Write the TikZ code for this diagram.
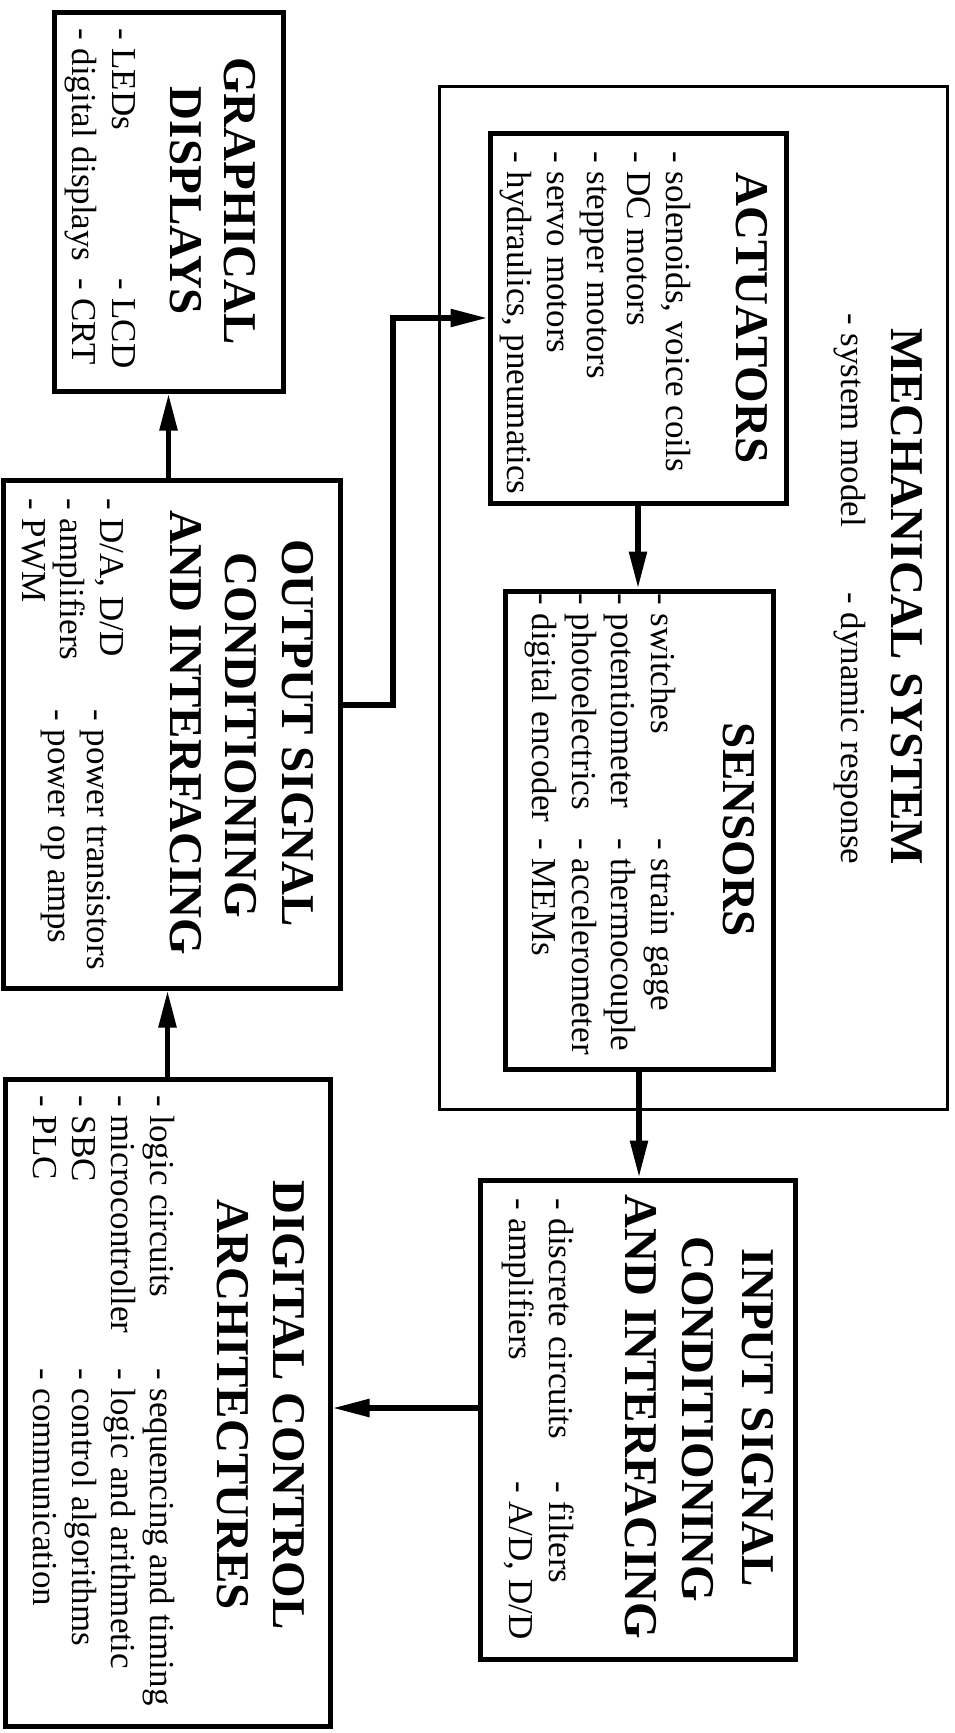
\documentclass[tikz,border=0pt]{standalone}
\usepackage{fontspec}
\setmainfont{Liberation Serif}
\usetikzlibrary{arrows.meta}
\newcommand{\bodyfnt}{\fontsize{35}{39}\selectfont}
\newcommand{\titlefnt}{\fontsize{47}{54}\selectfont\bfseries}
\begin{document}
\begin{tikzpicture}[x=1pt,y=-1pt,
  tbox/.style={draw, line width=5pt, rectangle, inner sep=0pt},
  mbox/.style={draw, line width=3pt, rectangle, inner sep=0pt},
  conn/.style={line width=5.5pt, -{Triangle[length=37pt,width=17pt]}},
  item/.style={rotate=-90, anchor=base west, inner sep=0pt, font=\bodyfnt},
  ttl/.style={rotate=-90, anchor=base, inner sep=0pt, font=\titlefnt}]
\fill[white] (0,0) rectangle (955,1733);
\useasboundingbox (0,0) rectangle (955,1733);

% Mechanical system
\node[mbox, minimum width=508pt, minimum height=1023pt] (mech) at (693,597.5) {};
\node[ttl] (mecht) at (891,597) {MECHANICAL SYSTEM};
\node[item] (mech1) at (841,313) {- system model};
\node[item] (mech2) at (841,592) {- dynamic response};

% Graphical displays
\node[tbox, minimum width=229pt, minimum height=379pt] (gd) at (168.5,201.5) {};
\node[ttl] (gdt1) at (224,201) {GRAPHICAL};
\node[ttl] (gdt2) at (170,201) {DISPLAYS};
\node[item] (gd1) at (112,28) {- LEDs};
\node[item] (gd2) at (72,28) {- digital displays};
\node[item] (gd3) at (112,278) {- LCD};
\node[item] (gd4) at (72,278) {- CRT};

% Actuators
\node[tbox, minimum width=296pt, minimum height=370pt] (act) at (638,318) {};
\node[ttl] (actt) at (736,318) {ACTUATORS};
\node[item] (act1) at (666,151) {- solenoids, voice coils};
\node[item] (act2) at (627,151) {- DC motors};
\node[item] (act3) at (587,151) {- stepper motors};
\node[item] (act4) at (547,151) {- servo motors};
\node[item] (act5) at (507,151) {- hydraulics, pneumatics};

% Sensors
\node[tbox, minimum width=268pt, minimum height=478pt] (sens) at (639,830) {};
\node[ttl] (senst) at (723,830) {SENSORS};
\node[item] (sen1) at (651,593) {- switches};
\node[item] (sen2) at (611,593) {- potentiometer};
\node[item] (sen3) at (572,593) {- photoelectrics};
\node[item] (sen4) at (532,593) {- digital encoder};
\node[item] (sen5) at (651,838) {- strain gage};
\node[item] (sen6) at (611,838) {- thermocouple};
\node[item] (sen7) at (572,838) {- accelerometer};
\node[item] (sen8) at (532,838) {- MEMs};

% Input signal conditioning
\node[tbox, minimum width=315pt, minimum height=479pt] (inp) at (637.5,1419.5) {};
\node[ttl] (inpt1) at (742,1418) {INPUT SIGNAL};
\node[ttl] (inpt2) at (682,1419) {CONDITIONING};
\node[ttl] (inpt3) at (625,1417) {AND INTERFACING};
\node[item] (inp1) at (549,1198) {- discrete circuits};
\node[item] (inp2) at (509,1198) {- amplifiers};
\node[item] (inp3) at (549,1481) {- filters};
\node[item] (inp4) at (509,1481) {- A/D, D/D};

% Output signal conditioning
\node[tbox, minimum width=337pt, minimum height=508pt] (out) at (171.5,734) {};
\node[ttl] (outt1) at (282,733) {OUTPUT SIGNAL};
\node[ttl] (outt2) at (225,735) {CONDITIONING};
\node[ttl] (outt3) at (170,733) {AND INTERFACING};
\node[item] (out1) at (100,498) {- D/A, D/D};
\node[item] (out2) at (60,498) {- amplifiers};
\node[item] (out3) at (22,498) {- PWM};
\node[item] (out4) at (87,709) {- power transistors};
\node[item] (out5) at (48,709) {- power op amps};

% Digital control architectures
\node[tbox, minimum width=325pt, minimum height=647pt] (dca) at (167.5,1402.5) {};
\node[ttl] (dcat1) at (273,1405) {DIGITAL CONTROL};
\node[ttl] (dcat2) at (217,1405) {ARCHITECTURES};
\node[item] (dca1) at (150,1095) {- logic circuits};
\node[item] (dca2) at (111,1095) {- microcontroller};
\node[item] (dca3) at (72,1095) {- SBC};
\node[item] (dca4) at (34,1095) {- PLC};
\node[item] (dca5) at (150,1368) {- sequencing and timing};
\node[item] (dca6) at (111,1368) {- logic and arithmetic};
\node[item] (dca7) at (72,1368) {- control algorithms};
\node[item] (dca8) at (34,1368) {- communication};

% Connectors
\coordinate (c1) at (393,705);
\coordinate (c2) at (400,1408);
\draw[conn] (gd.south |- out.north) -- (gd.south);
\draw[conn] (dca.north) -- (dca.north |- out.south);
\draw[conn] (c1 -| out.east) -- (c1) |- (act.west);
\draw[conn] (act.south) -- (act.south |- sens.north);
\draw[conn] (sens.south) -- (sens.south |- inp.north);
\draw[conn] (c2 -| inp.west) -- (c2 -| dca.east);
\end{tikzpicture}
\end{document}
